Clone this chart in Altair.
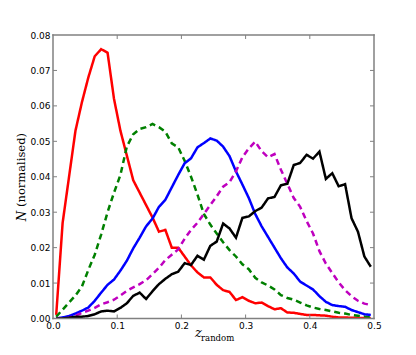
import altair as alt
import pandas as pd

z = [round(0.005 + 0.01 * k, 3) for k in range(50)]

red = [0.001, 0.027, 0.040, 0.053, 0.061, 0.068, 0.074, 0.076, 0.075, 0.062,
       0.053, 0.046, 0.039, 0.0355, 0.032, 0.0285, 0.0245, 0.025, 0.020, 0.020,
       0.0175, 0.015, 0.013, 0.0116, 0.0116, 0.0095, 0.008, 0.0075, 0.0052, 0.006,
       0.005, 0.0043, 0.0045, 0.0035, 0.0026, 0.0029, 0.0017, 0.0016, 0.0013, 0.001,
       0.001, 0.0009, 0.0008, 0.0005, 0.0003, 0.0003, 0.0002, 0.0002, 0.0001, 0.0001]

green = [0.0005, 0.0025, 0.0045, 0.0065, 0.009, 0.0137, 0.018, 0.0237, 0.030, 0.0355,
         0.0405, 0.0485, 0.052, 0.0535, 0.054, 0.0549, 0.054, 0.0527, 0.0494, 0.0483,
         0.0445, 0.040, 0.035, 0.0295, 0.0265, 0.024, 0.0215, 0.0193, 0.0175, 0.0153,
         0.0139, 0.0115, 0.0102, 0.0093, 0.0082, 0.0066, 0.0058, 0.0053, 0.0045, 0.0037,
         0.0031, 0.0027, 0.0024, 0.002, 0.0016, 0.0014, 0.001, 0.0008, 0.0006, 0.0005]

blue = [0.0, 0.0003, 0.0007, 0.0014, 0.0022, 0.0031, 0.005, 0.0073, 0.0095, 0.011,
        0.0135, 0.0163, 0.0198, 0.0228, 0.026, 0.0282, 0.0315, 0.0335, 0.037, 0.0405,
        0.0438, 0.0452, 0.0483, 0.0495, 0.0508, 0.0502, 0.0485, 0.0458, 0.0415, 0.0378,
        0.034, 0.0295, 0.026, 0.023, 0.020, 0.017, 0.0144, 0.0127, 0.0104, 0.0093,
        0.0082, 0.0063, 0.0047, 0.0038, 0.0035, 0.0033, 0.0024, 0.0018, 0.0012, 0.001]

magenta = [0.0, 0.0, 0.0002, 0.0008, 0.0016, 0.0022, 0.003, 0.004, 0.0046, 0.0053,
           0.0065, 0.0078, 0.0088, 0.0097, 0.0108, 0.0125, 0.0143, 0.0165, 0.018, 0.0195,
           0.0225, 0.025, 0.027, 0.0295, 0.032, 0.0345, 0.0372, 0.0385, 0.0415, 0.0455,
           0.048, 0.0499, 0.0472, 0.0455, 0.0464, 0.042, 0.038, 0.034, 0.0315, 0.0275,
           0.024, 0.019, 0.0155, 0.0128, 0.0102, 0.008, 0.0063, 0.005, 0.0042, 0.0038]

black = [0.0, 0.0, 0.0002, 0.0005, 0.0005, 0.0007, 0.0012, 0.002, 0.0022, 0.002,
         0.003, 0.0043, 0.0064, 0.0073, 0.0055, 0.0077, 0.0097, 0.0112, 0.0125, 0.0132,
         0.0156, 0.0151, 0.0177, 0.0166, 0.0205, 0.0217, 0.0268, 0.0254, 0.0228, 0.0284,
         0.0288, 0.0303, 0.0313, 0.0339, 0.0343, 0.0376, 0.038, 0.0433, 0.0439, 0.0462,
         0.0451, 0.0471, 0.0394, 0.041, 0.0373, 0.0379, 0.0283, 0.0245, 0.0175, 0.0146]

x_ticks = [0.0, 0.1, 0.2, 0.3, 0.4, 0.5]
y_ticks = [0.0, 0.01, 0.02, 0.03, 0.04, 0.05, 0.06, 0.07, 0.08]

series = [
    ("red", red, "#ff0000", [1, 0]),
    ("green", green, "#008000", [6, 4]),
    ("blue", blue, "#0000ff", [1, 0]),
    ("magenta", magenta, "#bf00bf", [6, 4]),
    ("black", black, "#000000", [1, 0]),
]

W, H = 321, 283.5
xs = alt.Scale(domain=[0, 0.5], nice=False)
ys = alt.Scale(domain=[0, 0.08], nice=False)

x_axis = alt.Axis(values=x_ticks, format=".1f", title=None, ticks=False, domain=False,
                  grid=False, labelFont="DejaVu Sans", labelFontSize=9, labelPadding=3,
                  labelColor="#000", labelFlush=False, labelOverlap=False)
y_axis = alt.Axis(values=y_ticks, format=".2f", title=None, ticks=False, domain=False,
                  grid=False, labelFont="DejaVu Sans", labelFontSize=9, labelPadding=3,
                  labelColor="#000", labelFlush=False, labelOverlap=False)

layers = []
for name, vals, col, dash in series:
    df = pd.DataFrame({"z": z, "N": vals})
    layers.append(
        alt.Chart(df).mark_line(color=col, strokeWidth=2.5, strokeDash=dash, clip=True)
        .encode(x=alt.X("z:Q", scale=xs, axis=x_axis), y=alt.Y("N:Q", scale=ys, axis=y_axis))
    )

tick_col = "#808080"
# frame edges along the domain bounds
frame = pd.DataFrame({
    "z": [0.0, 0.0, 0.0, 0.5],
    "z2": [0.5, 0.5, 0.0, 0.5],
    "N": [0.0, 0.08, 0.0, 0.0],
    "N2": [0.0, 0.08, 0.08, 0.08],
})
layers.append(
    alt.Chart(frame).mark_rule(color=tick_col, strokeWidth=1.5, strokeCap="square").encode(
        x=alt.X("z:Q", scale=xs, axis=x_axis), x2="z2:Q",
        y=alt.Y("N:Q", scale=ys, axis=y_axis), y2="N2:Q")
)

# inward tick marks on all four sides
xt = pd.DataFrame({"z": x_ticks[1:-1]})
yt = pd.DataFrame({"N": y_ticks[1:-1]})
layers += [
    alt.Chart(xt).mark_rule(color=tick_col, strokeWidth=1).encode(
        x=alt.X("z:Q", scale=xs, axis=x_axis), y=alt.value(0), y2=alt.value(4)),
    alt.Chart(xt).mark_rule(color=tick_col, strokeWidth=1).encode(
        x=alt.X("z:Q", scale=xs, axis=x_axis), y=alt.value(H - 4), y2=alt.value(H)),
    alt.Chart(yt).mark_rule(color=tick_col, strokeWidth=1).encode(
        y=alt.Y("N:Q", scale=ys, axis=y_axis), x=alt.value(0), x2=alt.value(4)),
    alt.Chart(yt).mark_rule(color=tick_col, strokeWidth=1).encode(
        y=alt.Y("N:Q", scale=ys, axis=y_axis), x=alt.value(W - 4), x2=alt.value(W)),
]

def label(txt, x, y, size, style="normal", angle=0, align="center", baseline="alphabetic"):
    return alt.Chart(pd.DataFrame({"t": [txt]})).mark_text(
        font="DejaVu Serif", fontSize=size, fontStyle=style, angle=angle,
        align=align, baseline=baseline, color="#000"
    ).encode(text="t:N", x=alt.value(x), y=alt.value(y))

layers += [
    label("z", 145.5, 302, 13, style="italic"),
    label("random", 148, 306, 8.5, align="left"),
    label("(normalised)", -31.5, 135, 11.5, angle=270, baseline="middle"),
    label("N", -31.5, 181, 12, style="italic", angle=270, baseline="middle"),
]

chart = alt.layer(*layers).properties(
    width=W, height=H,
    padding={"left": 45, "top": 27, "right": 34, "bottom": 32},
    autosize="none",
    background="white",
).configure_view(strokeWidth=0)

chart.save("out.html", embed_options={"renderer": "svg", "actions": False})
